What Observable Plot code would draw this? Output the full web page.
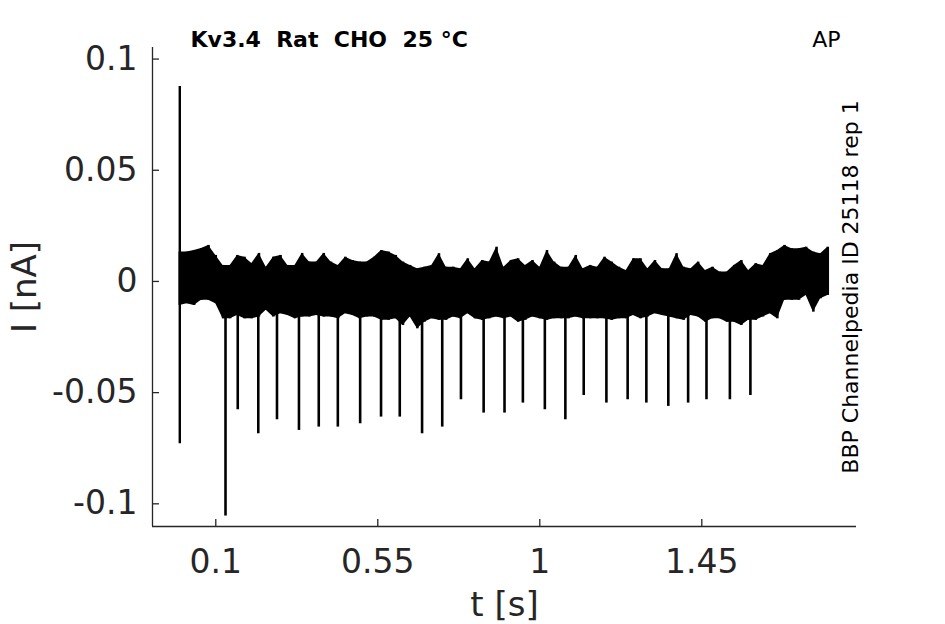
<!DOCTYPE html>
<html>
<head>
<meta charset="utf-8">
<script src="https://cdn.jsdelivr.net/npm/d3@7"></script>
<script src="https://cdn.jsdelivr.net/npm/@observablehq/plot@0.6"></script>
<style>
  html, body { margin: 0; padding: 0; background: #fff; }
  #chart { width: 945px; height: 624px; }
</style>
</head>
<body>
<div id="chart"></div>
<script>
// ---- Data ----
const titleText = "Kv3.4  Rat  CHO  25 °C";
const protocolText = "AP";
const sideText = "BBP Channelpedia ID 25118 rep 1";
const xLabel = "t [s]";
const yLabel = "I [nA]";

const xTicks = [0.1, 0.55, 1, 1.45];
const xTickLabels = ["0.1", "0.55", "1", "1.45"];
const yTicks = [-0.1, -0.05, 0, 0.05, 0.1];
const yTickLabels = ["-0.1", "-0.05", "0", "0.05", "0.1"];

// noise band envelope, sampled every 0.02 s from t = 0 to 1.8 s
const bandStep = 0.02;
const bandHi = [
  0.0132, 0.0132, 0.0139, 0.0148, 0.0162, 0.0117, 0.0072, 0.0072, 0.0117, 0.0109,
  0.0081, 0.0126, 0.0064, 0.0109, 0.0117, 0.0072, 0.0072, 0.0126, 0.0087, 0.0087,
  0.0126, 0.0087, 0.0072, 0.0109, 0.0094, 0.0087, 0.0087, 0.0109, 0.0139, 0.0132,
  0.0117, 0.0087, 0.0072, 0.0057, 0.0064, 0.0072, 0.0125, 0.0064, 0.0064, 0.0057,
  0.0102, 0.0057, 0.0094, 0.0087, 0.0154, 0.0064, 0.0094, 0.0102, 0.0072, 0.0094,
  0.0064, 0.0139, 0.0087, 0.0064, 0.0064, 0.0117, 0.0057, 0.0072, 0.0064, 0.0109,
  0.0087, 0.0064, 0.0049, 0.0102, 0.0102, 0.0057, 0.0094, 0.0057, 0.0057, 0.0125,
  0.0064, 0.0057, 0.0087, 0.0049, 0.0064, 0.0042, 0.0042, 0.0072, 0.0094, 0.0049,
  0.0080, 0.0072, 0.0125, 0.0139, 0.0162, 0.0147, 0.0147, 0.0154, 0.0132, 0.0125,
  0.0154
];
const bandLo = [
  -0.0108, -0.0100, -0.0108, -0.0085, -0.0085, -0.0100, -0.0168, -0.0168, -0.0153, -0.0168,
  -0.0168, -0.0160, -0.0130, -0.0160, -0.0145, -0.0153, -0.0168, -0.0160, -0.0160, -0.0153,
  -0.0160, -0.0160, -0.0168, -0.0145, -0.0153, -0.0168, -0.0160, -0.0160, -0.0175, -0.0175,
  -0.0168, -0.0198, -0.0160, -0.0213, -0.0183, -0.0168, -0.0175, -0.0175, -0.0160, -0.0168,
  -0.0145, -0.0168, -0.0175, -0.0168, -0.0160, -0.0168, -0.0160, -0.0183, -0.0175, -0.0160,
  -0.0168, -0.0175, -0.0168, -0.0168, -0.0168, -0.0160, -0.0168, -0.0168, -0.0168, -0.0168,
  -0.0175, -0.0168, -0.0168, -0.0153, -0.0168, -0.0160, -0.0145, -0.0153, -0.0160, -0.0168,
  -0.0175, -0.0153, -0.0160, -0.0183, -0.0168, -0.0168, -0.0183, -0.0183, -0.0198, -0.0175,
  -0.0175, -0.0160, -0.0145, -0.0168, -0.0085, -0.0085, -0.0085, -0.0063, -0.0138, -0.0078,
  -0.0063
];

// action-potential current spikes (time in s, minimum in nA)
const spikeT = [0.127, 0.161, 0.218, 0.270, 0.331, 0.386, 0.439, 0.501, 0.559, 0.611,
  0.673, 0.729, 0.781, 0.844, 0.902, 0.953, 1.014, 1.071, 1.122, 1.185,
  1.244, 1.296, 1.357, 1.412, 1.463, 1.528, 1.585];
const spikeMin = [-0.1055, -0.0577, -0.0685, -0.0622, -0.0670, -0.0655, -0.0655, -0.0640, -0.0610, -0.0610,
  -0.0685, -0.0655, -0.0532, -0.0592, -0.0592, -0.0547, -0.0577, -0.0622, -0.0513, -0.0547,
  -0.0532, -0.0547, -0.0562, -0.0547, -0.0532, -0.0532, -0.0513];
const spikeBase = -0.010;

// capacitive transient at the start
const transientT = [0.0];
const transientMax = [0.0877];
const transientMin = [-0.0730];

// ---- Build tables ----
const band = bandHi.map((h, i) => ({t: i * bandStep, hi: h, lo: bandLo[i]}));
const spikes = spikeT.map((t, i) => ({t, min: spikeMin[i], base: spikeBase}));
const transient = transientT.map((t, i) => ({t, max: transientMax[i], min: transientMin[i]}));

const xDomain = [-0.0758, 1.8797];
const yDomain = [-0.1102, 0.1052];
const axisColor = "#262626";

const chart = Plot.plot({
  width: 945,
  height: 624,
  marginLeft: 152,
  marginRight: 89,
  marginTop: 47,
  marginBottom: 98,
  x: {domain: xDomain},
  y: {domain: yDomain},
  style: {fontFamily: "DejaVu Sans", background: "white", color: axisColor, overflow: "visible"},
  marks: [
    // data
    Plot.areaY(band, {x: "t", y1: "lo", y2: "hi", curve: "linear", fill: "black"}),
    Plot.ruleX(band, {x: "t", y1: "lo", y2: "hi", stroke: "black", strokeWidth: 2.5}),
    Plot.ruleX(spikes, {x: "t", y1: "min", y2: "base", stroke: "black", strokeWidth: 2.6}),
    Plot.ruleX(transient, {x: "t", y1: "min", y2: "max", stroke: "black", strokeWidth: 2.4}),
    // spines
    Plot.ruleX([xDomain[0]], {stroke: axisColor, strokeWidth: 1.3}),
    Plot.ruleY([yDomain[0]], {stroke: axisColor, strokeWidth: 1.3}),
    // inward ticks
    Plot.axisX({ticks: xTicks, tickSize: -7, fill: "none", label: null, stroke: axisColor, strokeWidth: 1.3}),
    Plot.axisY({ticks: yTicks, tickSize: -7, fill: "none", label: null, stroke: axisColor, strokeWidth: 1.3}),
    // tick labels
    Plot.axisX({ticks: xTicks, tickSize: 0, tickPadding: 23, fontSize: 33, label: null,
      tickFormat: (d) => xTickLabels[xTicks.indexOf(d)], fill: axisColor}),
    Plot.axisY({ticks: yTicks, tickSize: 0, tickPadding: 15, fontSize: 33, label: null,
      tickFormat: (d) => yTickLabels[yTicks.indexOf(d)], fill: axisColor}),
    // axis titles
    Plot.text([xLabel], {frameAnchor: "bottom", dy: 79, fontSize: 34, textAnchor: "middle", lineAnchor: "middle", fill: axisColor}),
    Plot.text([yLabel], {frameAnchor: "left", dx: -127, rotate: -90, fontSize: 34, textAnchor: "middle", lineAnchor: "middle", fill: axisColor}),
    // annotations
    Plot.text([titleText], {frameAnchor: "top-left", dx: 38, dy: -1, textAnchor: "start", lineAnchor: "bottom",
      fontSize: 22, fontWeight: "bold", fill: "black"}),
    Plot.text([protocolText], {frameAnchor: "top-right", dx: -16, dy: -1, textAnchor: "end", lineAnchor: "bottom",
      fontSize: 22, fill: "black"}),
    Plot.text([sideText], {frameAnchor: "right", dx: -6, rotate: -90, textAnchor: "middle", lineAnchor: "middle",
      fontSize: 22, fill: "black"})
  ]
});
document.getElementById("chart").appendChild(chart);
</script>
</body>
</html>
